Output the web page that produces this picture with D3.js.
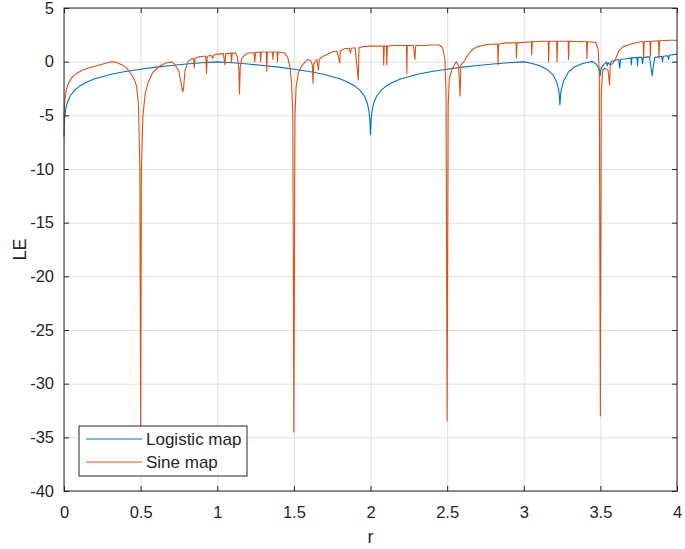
<!DOCTYPE html>
<html>
<head>
<meta charset="utf-8">
<script src="https://cdn.jsdelivr.net/npm/d3@7/dist/d3.min.js"></script>
<style>
  body { margin: 0; background: #fff; }
  text { font-family: "Liberation Sans", Arial, sans-serif; fill: #262626; }
</style>
</head>
<body>
<svg id="chart" width="685" height="549"></svg>
<script>

// TICKS
var xTicks = [0, 0.5, 1, 1.5, 2, 2.5, 3, 3.5, 4];
var yTicks = [-40, -35, -30, -25, -20, -15, -10, -5, 0, 5];
var seriesNames = ["Logistic map", "Sine map"];

// LOGISTIC MAP  [r, LE]
var logisticData = [
  [0, -7.0], [0.002, -6.0], [0.005, -5.2], [0.01, -4.5], [0.02, -3.9], [0.04, -3.2],
  [0.07, -2.65], [0.1, -2.3], [0.15, -1.9], [0.2, -1.6], [0.25, -1.4], [0.3, -1.2],
  [0.4, -0.92], [0.5, -0.7], [0.6, -0.51], [0.7, -0.36], [0.8, -0.22], [0.9, -0.1],
  [1.0, -0.02], [1.1, -0.1], [1.2, -0.22], [1.3, -0.36], [1.4, -0.51], [1.5, -0.7],
  [1.6, -0.92], [1.7, -1.2], [1.75, -1.4], [1.8, -1.6], [1.85, -1.9], [1.9, -2.3],
  [1.93, -2.65], [1.96, -3.2], [1.98, -3.9], [1.99, -4.6], [1.995, -5.3], [2.0, -6.8],
  [2.005, -5.3], [2.01, -4.6], [2.02, -3.9], [2.04, -3.2], [2.07, -2.65], [2.1, -2.3],
  [2.15, -1.9], [2.2, -1.6], [2.25, -1.4], [2.3, -1.2], [2.4, -0.92], [2.5, -0.7],
  [2.6, -0.51], [2.7, -0.36], [2.8, -0.22], [2.9, -0.1], [3.0, -0.02], [3.05, -0.15],
  [3.1, -0.35], [3.15, -0.7], [3.19, -1.2], [3.215, -1.9], [3.23, -2.8], [3.236, -4.0],
  [3.242, -2.8], [3.26, -1.8], [3.29, -1.0], [3.33, -0.5], [3.38, -0.2], [3.42, -0.05],
  [3.449, 0.0], [3.47, -0.2], [3.49, -0.6], [3.498, -1.3], [3.505, -0.6], [3.52, -0.3],
  [3.54, -0.05], [3.545, -0.4], [3.55, -0.1], [3.565, -0.3], [3.57, 0.0], [3.6, 0.15],
  [3.62, 0.2], [3.626, -0.6], [3.632, 0.2], [3.66, 0.25], [3.68, 0.3], [3.7, 0.35],
  [3.702, -0.3], [3.706, 0.35], [3.74, 0.4], [3.742, -0.4], [3.746, 0.4], [3.77, 0.4],
  [3.775, -0.2], [3.78, 0.4], [3.82, 0.45], [3.83, -0.5], [3.838, -1.3], [3.845, -0.5],
  [3.855, 0.4], [3.9, 0.5], [3.905, 0.0], [3.91, 0.5], [3.94, 0.55], [3.945, 0.2],
  [3.95, 0.6], [4.0, 0.7]
];

// SINE MAP  [r, LE]
var sineData = [
  [0, -5.6], [0.005, -3.6], [0.015, -2.6], [0.03, -2.0], [0.05, -1.5], [0.08, -1.1],
  [0.12, -0.8], [0.17, -0.55], [0.22, -0.35], [0.27, -0.15], [0.31, 0.0], [0.34, -0.05],
  [0.38, -0.3], [0.41, -0.6], [0.44, -1.2], [0.46, -1.7], [0.474, -2.3], [0.486, -4],
  [0.495, -10], [0.5, -34], [0.505, -10], [0.515, -5.0], [0.53, -3.0], [0.55, -1.9],
  [0.58, -1.0], [0.62, -0.45], [0.66, -0.15], [0.70, 0.0], [0.72, -0.2], [0.75, -0.9],
  [0.77, -2.5], [0.775, -2.8], [0.78, -2.5], [0.79, -0.8], [0.81, 0.0], [0.83, 0.25],
  [0.845, 0.3], [0.85, -0.6], [0.855, 0.3], [0.88, 0.45], [0.91, 0.5], [0.925, 0.5],
  [0.93, -1.1], [0.935, 0.5], [0.96, 0.6], [0.97, 0.3], [0.975, 0.6], [1.0, 0.7],
  [1.04, 0.75], [1.05, -0.3], [1.055, 0.75], [1.09, 0.8], [1.093, -0.1], [1.097, 0.8],
  [1.12, 0.8], [1.13, 0.5], [1.14, -0.5], [1.145, -3.0], [1.15, -0.5], [1.16, 0.3],
  [1.18, 0.6], [1.2, 0.8], [1.24, 0.85], [1.245, 0.0], [1.25, 0.85], [1.28, 0.9],
  [1.283, 0.0], [1.287, 0.9], [1.32, 0.9], [1.323, -0.9], [1.327, 0.9], [1.36, 0.9],
  [1.363, 0.2], [1.367, 0.9], [1.39, 0.9], [1.393, 0.0], [1.397, 0.9], [1.44, 0.8],
  [1.46, 0.4], [1.475, -0.5], [1.485, -2.0], [1.493, -5], [1.5, -34.5], [1.507, -5],
  [1.515, -2.3], [1.53, -1.0], [1.55, -0.4], [1.57, -0.1], [1.59, 0.2], [1.61, 0.1],
  [1.62, -0.3], [1.625, -2.0], [1.63, -0.2], [1.65, 0.2], [1.66, -0.8], [1.665, 0.2],
  [1.69, 0.5], [1.72, 0.7], [1.75, 0.9], [1.78, 1.0], [1.8, -0.1], [1.803, 1.0],
  [1.83, 1.2], [1.86, 1.25], [1.87, 0.8], [1.875, 1.25], [1.9, 1.3], [1.92, -1.7],
  [1.925, 1.3], [1.95, 1.4], [2.0, 1.45], [2.05, 1.45], [2.084, 1.45], [2.086, -0.3],
  [2.09, 1.45], [2.104, 1.45], [2.106, -0.3], [2.11, 1.45], [2.15, 1.5], [2.2, 1.5],
  [2.235, 1.5], [2.237, -1.1], [2.24, 1.5], [2.28, 1.5], [2.29, 0.2], [2.295, 1.5],
  [2.35, 1.5], [2.4, 1.55], [2.45, 1.55], [2.47, 1.3], [2.485, 0.3], [2.493, -3],
  [2.5, -33.5], [2.507, -4], [2.515, -1.5], [2.53, -0.8], [2.55, -0.2], [2.56, 0.0],
  [2.575, -0.4], [2.584, -3.2], [2.59, -0.3], [2.61, 0.0], [2.63, 0.5], [2.65, 0.9],
  [2.67, 1.2], [2.7, 1.4], [2.76, 1.6], [2.83, 1.65], [2.832, -0.3], [2.836, 1.65],
  [2.885, 1.75], [2.95, 1.75], [2.952, 0.35], [2.956, 1.75], [3.0, 1.8], [3.05, 1.85],
  [3.052, 0.65], [3.056, 1.85], [3.13, 1.9], [3.16, 1.9], [3.162, 0.0], [3.166, 1.9],
  [3.215, 1.9], [3.217, 0.0], [3.221, 1.9], [3.29, 1.9], [3.292, 0.2], [3.296, 1.9],
  [3.41, 1.85], [3.412, 0.3], [3.416, 1.85], [3.47, 1.8], [3.485, 1.2], [3.493, -1],
  [3.5, -33], [3.506, -3], [3.515, -0.8], [3.53, -0.6], [3.55, -0.8], [3.56, -2.2],
  [3.565, -0.3], [3.58, -0.2], [3.6, 0.3], [3.62, 1.0], [3.65, 1.4], [3.7, 1.65],
  [3.76, 1.85], [3.78, 1.85], [3.782, 0.35], [3.786, 1.85], [3.824, 1.9], [3.826, 0.5],
  [3.83, 1.9], [3.88, 1.95], [3.882, 0.3], [3.886, 1.95], [3.95, 2.0], [4.0, 2.0]
];

var colors = ["#0072BD", "#D95319"];

var margin = {left: 64, top: 8, right: 8, bottom: 58};
var width = 685 - margin.left - margin.right;
var height = 549 - margin.top - margin.bottom;

var svg = d3.select("#chart");
var g = svg.append("g").attr("transform", "translate(" + margin.left + "," + margin.top + ")");

var x = d3.scaleLinear().domain([0, 4]).range([0, width]);
var y = d3.scaleLinear().domain([-40, 5]).range([height, 0]);

// GRID
g.append("g")
    .attr("transform", "translate(0," + height + ")")
    .call(d3.axisBottom(x).tickValues(xTicks).tickSize(-height).tickFormat(""))
    .call(function(s){ s.select(".domain").remove(); })
    .selectAll("line").attr("stroke", "#dfdfdf");

g.append("g")
    .call(d3.axisLeft(y).tickValues(yTicks).tickSize(-width).tickFormat(""))
    .call(function(s){ s.select(".domain").remove(); })
    .selectAll("line").attr("stroke", "#dfdfdf");

// LINES
var line = d3.line()
    .x(function(d){ return x(d[0]); })
    .y(function(d){ return y(d[1]); });

[logisticData, sineData].forEach(function(data, i){
    g.append("path")
        .datum(data)
        .attr("fill", "none")
        .attr("stroke", colors[i])
        .attr("stroke-width", 1.1)
        .attr("stroke-linejoin", "round")
        .attr("d", line);
});

// AXES (ticks inward, on all four sides)
var fmt = function(d){ return String(d); };

g.append("g")
    .attr("transform", "translate(0," + height + ")")
    .call(d3.axisBottom(x).tickValues(xTicks).tickSizeInner(-5).tickSizeOuter(0).tickPadding(15).tickFormat(fmt));
g.append("g")
    .call(d3.axisLeft(y).tickValues(yTicks).tickSizeInner(-5).tickSizeOuter(0).tickPadding(10).tickFormat(fmt));
g.append("g")
    .call(d3.axisTop(x).tickValues(xTicks).tickSizeInner(-5).tickSizeOuter(0).tickFormat(""));
g.append("g")
    .attr("transform", "translate(" + width + ",0)")
    .call(d3.axisRight(y).tickValues(yTicks).tickSizeInner(-5).tickSizeOuter(0).tickFormat(""));

g.selectAll(".domain").remove();
g.selectAll(".tick line").filter(function(){ return this.getAttribute("stroke") === "currentColor"; })
    .attr("stroke", "#262626");
g.selectAll(".tick text")
    .attr("fill", "#262626")
    .style("font-size", "16.5px")
    .style("font-family", "'Liberation Sans', Arial, sans-serif");

// BOX
g.append("rect")
    .attr("x", 0).attr("y", 0)
    .attr("width", width).attr("height", height)
    .attr("fill", "none")
    .attr("stroke", "#262626")
    .attr("stroke-width", 1);

// AXIS LABELS
svg.append("text")
    .attr("x", margin.left + width / 2)
    .attr("y", 543)
    .attr("text-anchor", "middle")
    .style("font-size", "18px")
    .text("r");

svg.append("text")
    .attr("transform", "translate(26," + (margin.top + height / 2) + ") rotate(-90)")
    .attr("text-anchor", "middle")
    .style("font-size", "18px")
    .text("LE");

// LEGEND
var legend = g.append("g").attr("transform", "translate(15,418)");
legend.append("rect")
    .attr("width", 168).attr("height", 50)
    .attr("fill", "#fff")
    .attr("stroke", "#262626");

seriesNames.forEach(function(name, i){
    legend.append("line")
        .attr("x1", 7).attr("x2", 63)
        .attr("y1", 13 + i * 23).attr("y2", 13 + i * 23)
        .attr("stroke", colors[i])
        .attr("stroke-width", 1.1);
    legend.append("text")
        .attr("x", 67)
        .attr("y", 19 + i * 23)
        .style("font-size", "17px")
        .text(name);
});

</script>
</body>
</html>
